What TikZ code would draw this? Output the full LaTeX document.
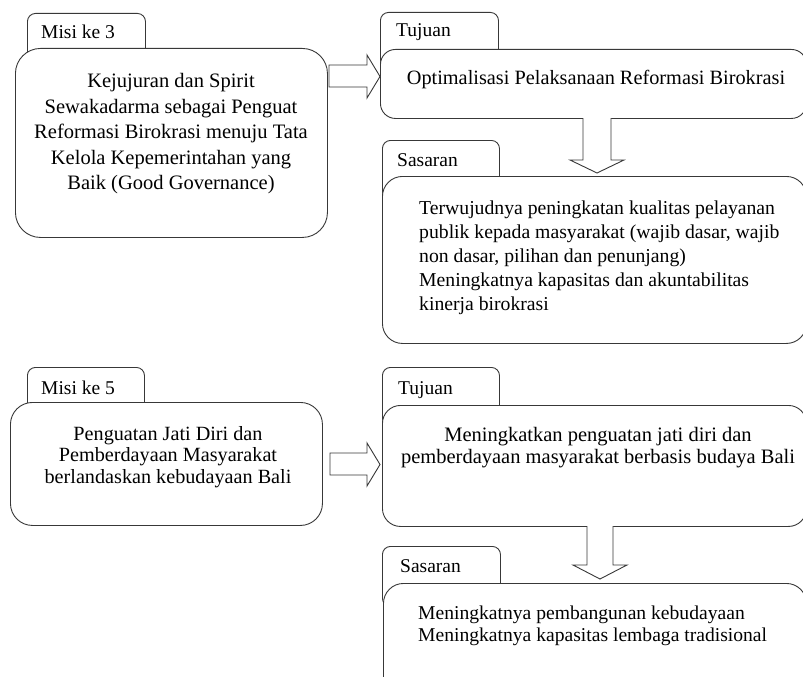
\documentclass[tikz,border=0pt]{standalone}
\usepackage{fontspec}
\setmainfont{Liberation Serif}
\begin{document}
\begin{tikzpicture}[x=1pt,y=-1pt,
  linec/.style={draw=black!78, line width=0.9pt},
  tabbox/.style={linec, rounded corners=8pt, fill=white, anchor=north west, inner sep=0pt, minimum height=60pt},
  mainbox/.style={linec, fill=white, anchor=north west, inner sep=0pt},
  tabtxt/.style={font=\fontsize{19.5}{23}\selectfont, inner sep=0pt, anchor=base west},
  txt/.style={inner sep=0pt},
  blockarrow/.style={linec, fill=white, line join=miter}]
\useasboundingbox (0,0) rectangle (803,677);
\clip (0,0) rectangle (803,677);
% ---------- Misi ke 3 ----------
\node[tabbox, minimum width=118pt] (m3t) at (27,13) {};
\node[mainbox, rounded corners=25pt, minimum width=312pt, minimum height=189pt] (m3) at (15,48) {};
\node[tabtxt] (m3l) at (41,39) {Misi ke 3};
\node[txt, align=center, font=\fontsize{20.5}{25.5}\selectfont] (m3x) at (171,134)
  {Kejujuran dan Spirit\\Sewakadarma sebagai Penguat\\Reformasi Birokrasi menuju Tata\\Kelola Kepemerintahan yang\\Baik (Good Governance)};
% ---------- Tujuan 1 ----------
\node[tabbox, minimum width=118pt] (t1t) at (380,12) {};
\node[mainbox, rounded corners=15pt, minimum width=426pt, minimum height=69pt] (t1) at (380,49) {};
\node[tabtxt] (t1l) at (396,37) {Tujuan};
\node[txt, font=\fontsize{20.3}{24}\selectfont] (t1x) at (596,80) {Optimalisasi Pelaksanaan Reformasi Birokrasi};
% ---------- Sasaran 1 ----------
\node[tabbox, minimum width=117pt] (s1t) at (382,140) {};
\node[mainbox, rounded corners=20pt, minimum width=424pt, minimum height=167pt] (s1) at (382,176) {};
\node[tabtxt] (s1l) at (397,166) {Sasaran};
\node[txt, align=left, anchor=west, font=\fontsize{19.7}{24}\selectfont] (s1x) at (419,258)
  {Terwujudnya peningkatan kualitas pelayanan\\publik kepada masyarakat (wajib dasar, wajib\\non dasar, pilihan dan penunjang)\\Meningkatnya kapasitas dan akuntabilitas\\kinerja birokrasi};
% ---------- Misi ke 5 ----------
\node[tabbox, minimum width=117pt] (m5t) at (27,367) {};
\node[mainbox, rounded corners=22pt, minimum width=312pt, minimum height=123pt] (m5) at (10,402) {};
\node[tabtxt] (m5l) at (41,394) {Misi ke 5};
\node[txt, align=center, font=\fontsize{20.2}{21.5}\selectfont] (m5x) at (168,457)
  {Penguatan Jati Diri dan\\Pemberdayaan Masyarakat\\berlandaskan kebudayaan Bali};
% ---------- Tujuan 2 ----------
\node[tabbox, minimum width=117pt] (t2t) at (382,367) {};
\node[mainbox, rounded corners=18pt, minimum width=424pt, minimum height=121pt] (t2) at (382,405) {};
\node[tabtxt] (t2l) at (398,394) {Tujuan};
\node[txt, align=center, font=\fontsize{20.5}{22}\selectfont] (t2x) at (598,448)
  {Meningkatkan penguatan jati diri dan\\pemberdayaan masyarakat berbasis budaya Bali};
% ---------- Sasaran 2 ----------
\node[tabbox, minimum width=118pt] (s2t) at (382,546) {};
\node[mainbox, rounded corners=20pt, minimum width=423pt, minimum height=120pt] (s2) at (383,583) {};
\node[tabtxt] (s2l) at (400,572) {Sasaran};
\node[txt, align=left, anchor=west, font=\fontsize{19.6}{22}\selectfont] (s2x) at (418,626)
  {Meningkatnya pembangunan kebudayaan\\Meningkatnya kapasitas lembaga tradisional};
% ---------- block arrows ----------
\draw[blockarrow] (329,65) -- (367,65) -- (367,55) -- (380,76.5) -- (367,98) -- (367,87) -- (329,87) -- cycle;
\draw[blockarrow] (583,118) -- (583,160) -- (570,160) -- (597,173) -- (624,160) -- (611,160) -- (611,118);
\draw[blockarrow] (330,453) -- (367,453) -- (367,443) -- (380,464.5) -- (367,486) -- (367,475) -- (330,475) -- cycle;
\draw[blockarrow] (587,526) -- (587,565) -- (573,565) -- (600,579) -- (627,565) -- (613,565) -- (613,526);
\end{tikzpicture}
\end{document}
